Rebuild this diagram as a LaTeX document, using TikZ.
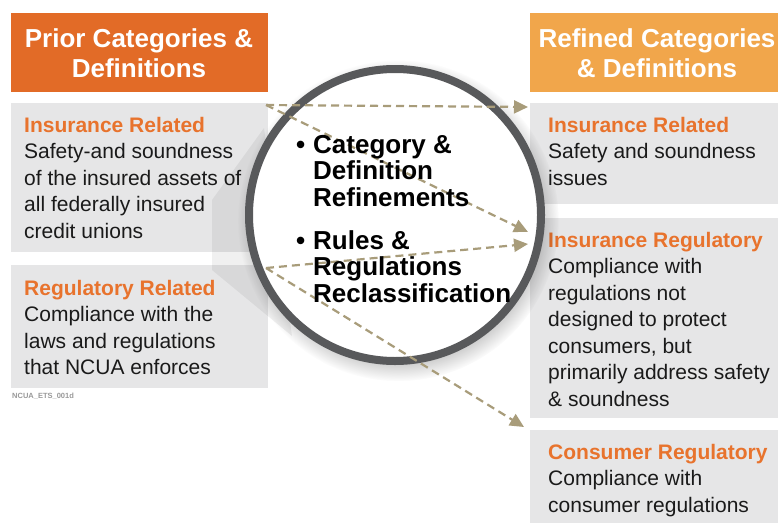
\documentclass[tikz,border=0pt]{standalone}
\usepackage{fontspec}
\setmainfont{Liberation Sans}
\usetikzlibrary{arrows.meta,shadows}
\definecolor{tOrange}{HTML}{E26B27}
\definecolor{tLight}{HTML}{F1A64B}
\definecolor{hOrange}{HTML}{E8732D}
\definecolor{boxGray}{HTML}{E6E6E7}
\definecolor{arrowTan}{HTML}{A89C7A}
\definecolor{ringGray}{HTML}{58595B}
\definecolor{txt}{HTML}{1A1A1A}
\pgfdeclareradialshading{lensshade}{\pgfpoint{0bp}{0bp}}{color(0bp)=(white); color(38bp)=(white); color(50bp)=(black!20); color(100bp)=(black!20)}
\newcommand{\lensbul}{\makebox[17pt][l]{\textbullet}}
\newcommand{\lensind}{\hspace*{17pt}}
\begin{document}
\begin{tikzpicture}[x=1pt,y=-1pt,
  panel/.style={fill=boxGray,draw=none,anchor=north west,inner sep=0pt},
  titlebox/.style={draw=none,anchor=north west,inner sep=0pt,minimum height=79pt},
  titletext/.style={text=white,align=center,inner sep=0pt,font=\fontsize{26}{30}\selectfont\bfseries},
  bodytext/.style={text=txt,align=left,anchor=north west,inner sep=0pt,font=\fontsize{21}{26.5}\selectfont},
  lenstext/.style={text=black,align=left,anchor=north west,inner sep=0pt,font=\fontsize{26}{26.5}\selectfont\bfseries},
  flow/.style={draw=arrowTan,line width=2.2pt,dash pattern=on 8pt off 5pt,-{Triangle[length=14pt,width=13pt,fill=arrowTan]}}
]
\useasboundingbox (0,0) rectangle (778,522);
\fill[white] (0,0) rectangle (778,522);

% title boxes
\node[titlebox,fill=tOrange,minimum width=257pt] (lt) at (11,13) {};
\node[titlebox,fill=tLight,minimum width=250pt] (rt) at (530,13) {};
\node[titletext] (ltt) at (139,53) {Prior Categories \&\\Definitions};
\node[titletext] (rtt) at (657,53) {Refined Categories\\\& Definitions};

% panels
\node[panel,minimum width=257pt,minimum height=149pt] (lb1) at (11,103) {};
\node[panel,minimum width=257pt,minimum height=123pt] (lb2) at (11,265) {};
\node[panel,minimum width=250pt,minimum height=101pt] (rb1) at (530,103) {};
\node[panel,minimum width=250pt,minimum height=200pt] (rb2) at (530,218) {};
\node[panel,minimum width=250pt,minimum height=95pt] (rb3) at (530,430) {};

% panel texts
\node[bodytext] (lt1) at (24,117) {\textcolor{hOrange}{\bfseries Insurance Related}\\Safety-and soundness\\of the insured assets of\\all federally insured\\credit unions};
\node[bodytext] (lt2) at (24,280) {\textcolor{hOrange}{\bfseries Regulatory Related}\\Compliance with the\\laws and regulations\\that NCUA enforces};
\node[bodytext] (rt1) at (548,117) {\textcolor{hOrange}{\bfseries Insurance Related}\\Safety and soundness\\issues};
\node[bodytext] (rt2) at (548,232) {\textcolor{hOrange}{\bfseries Insurance Regulatory}\\Compliance with\\regulations not\\designed to protect\\consumers, but\\primarily address safety\\\& soundness};
\node[bodytext] (rt3) at (548,444) {\textcolor{hOrange}{\bfseries Consumer Regulatory}\\Compliance with\\consumer regulations};
\node[anchor=west,inner sep=0pt,text=black!40,font=\fontsize{7.5}{8}\selectfont\bfseries] (code) at (12,396) {NCUA\_ETS\_001d};

% lens shadow cone
\fill[black,fill opacity=0.06] (212,200) -- (264,128) -- (292,336) -- (212,270) -- cycle;

% lens
\node[circle,minimum size=292pt,shading=lensshade,draw=ringGray,line width=8pt,
      circular drop shadow={shadow xshift=3pt,shadow yshift=-5pt,opacity=0.25,fill=black}] (lens) at (395,215) {};

% connectors
\coordinate (s1) at (266,105);
\coordinate (s2) at (266,268);
\coordinate (e1) at (528,107);
\coordinate (e2) at (528,232);
\coordinate (e3) at (528,244);
\coordinate (e4) at (524,427);
\draw[flow] (s1) -- (e1);
\draw[flow] (s1) -- (e2);
\draw[flow] (s2) -- (e3);
\draw[flow] (s2) -- (e4);

% lens text
\node[lenstext] (c1) at (296,135) {\lensbul Category \&\\\lensind Definition\\\lensind Refinements};
\node[lenstext] (c2) at (296,230) {\lensbul Rules \&\\\lensind Regulations\\\lensind Reclassification};
\end{tikzpicture}
\end{document}
